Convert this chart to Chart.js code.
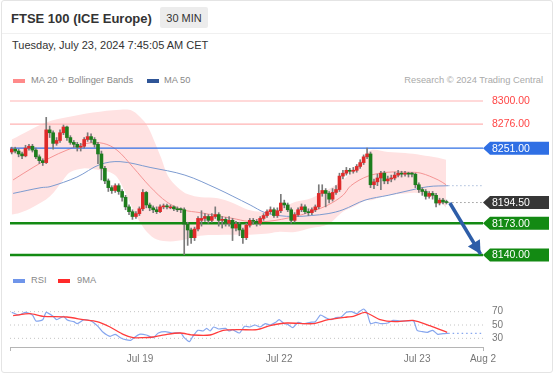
<!DOCTYPE html>
<html>
<head>
<meta charset="utf-8">
<script src="https://cdn.jsdelivr.net/npm/chart.js@4.4.1/dist/chart.umd.min.js"></script>
<style>
  body { margin:0; width:553px; height:375px; background:#fff; position:relative; overflow:hidden;
         font-family:"Liberation Sans", Arial, sans-serif; }
  #frame { position:absolute; left:1px; top:0; width:552px; height:373px; box-sizing:border-box;
           border:1px solid #e4e4e4; border-radius:3px; }
  #sep { position:absolute; left:2px; top:33px; width:549px; height:1px; background:#f0f0f0; }
  .t { position:absolute; white-space:nowrap; line-height:1; }
  #title { left:11px; top:11.7px; font-size:13px; font-weight:bold; color:#333; }
  #badge { position:absolute; left:160px; top:7px; width:48px; height:21px; background:#ececec; border-radius:2px;
           display:flex; align-items:center; justify-content:center; font-size:11px; color:#333; }
  #date { left:12px; top:40px; font-size:11px; color:#333; }
  .lg { font-size:9.3px; color:#888; }
  .sw { position:absolute; width:12px; height:4px; }
  canvas { position:absolute; left:0; }
</style>
</head>
<body>
<div id="frame"></div>
<div id="sep"></div>
<div id="title" class="t">FTSE 100 (ICE Europe)</div>
<div id="badge">30 MIN</div>
<div id="date" class="t">Tuesday, July 23, 2024 7:45:05 AM CET</div>

<div class="sw" style="left:13px;top:79px;background:#ff8a8a"></div>
<div class="t lg" style="left:31px;top:76.1px">MA 20 + Bollinger Bands</div>
<div class="sw" style="left:147px;top:79px;background:#2f5597"></div>
<div class="t lg" style="left:164px;top:76.1px">MA 50</div>
<div class="t lg" style="right:10px;top:76.1px;color:#aaa">Research © 2024 Trading Central</div>

<div class="sw" style="left:13px;top:279px;background:#6f95ea"></div>
<div class="t lg" style="left:31px;top:276.1px">RSI</div>
<div class="sw" style="left:58px;top:279px;background:#ff2a2a"></div>
<div class="t lg" style="left:77px;top:276.1px">9MA</div>

<canvas id="price" width="553" height="175" style="top:88px"></canvas>
<canvas id="rsi" width="553" height="87" style="top:288px"></canvas>

<script>
// 30 min candles, oldest first
const opens = [
  8247, 8250, 8248, 8245, 8243, 8251, 8253, 8249, 8242, 8238,
  8236, 8270, 8267, 8256, 8259, 8267, 8273, 8262, 8257, 8255,
  8252, 8253, 8260, 8263, 8260, 8255, 8245, 8230, 8217, 8210,
  8207, 8212, 8206, 8200, 8190, 8185, 8180, 8183, 8188, 8205,
  8192, 8189, 8187, 8185, 8190, 8191, 8189, 8190, 8188, 8188,
  8187, 8172, 8166, 8158, 8167, 8176, 8178, 8180, 8176, 8180,
  8182, 8176, 8177, 8173, 8176, 8168, 8172, 8166, 8158, 8171,
  8176, 8175, 8173, 8178, 8181, 8185, 8187, 8181, 8186, 8194,
  8192, 8187, 8176, 8182, 8187, 8190, 8185, 8184, 8187, 8190,
  8204, 8207, 8204, 8198, 8205, 8208, 8222, 8225, 8228, 8227,
  8228, 8232, 8236, 8242, 8245, 8213, 8216, 8220, 8225, 8217,
  8219, 8220, 8223, 8225, 8224, 8225, 8225, 8224, 8213, 8208,
  8206, 8201, 8204, 8202, 8194, 8197, 8195
];
const closes = [
  8250, 8248, 8245, 8243, 8251, 8253, 8249, 8242, 8238, 8236,
  8270, 8267, 8256, 8259, 8267, 8273, 8262, 8257, 8255, 8252,
  8253, 8260, 8263, 8260, 8255, 8245, 8230, 8217, 8210, 8207,
  8212, 8206, 8200, 8190, 8185, 8180, 8183, 8188, 8205, 8192,
  8189, 8187, 8185, 8190, 8191, 8190, 8190, 8188, 8187, 8187,
  8172, 8166, 8158, 8167, 8178, 8178, 8180, 8176, 8180, 8182,
  8176, 8177, 8173, 8176, 8168, 8172, 8166, 8158, 8171, 8176,
  8175, 8173, 8178, 8181, 8185, 8187, 8181, 8186, 8194, 8192,
  8187, 8176, 8182, 8187, 8190, 8185, 8184, 8187, 8190, 8204,
  8207, 8204, 8198, 8205, 8208, 8222, 8225, 8228, 8227, 8228,
  8232, 8236, 8242, 8245, 8213, 8216, 8220, 8225, 8217, 8219,
  8220, 8223, 8225, 8224, 8225, 8224, 8224, 8213, 8208, 8206,
  8201, 8204, 8202, 8194, 8197, 8195, 8194.5
];
const highs = [
  8252, 8252, 8250, 8247, 8254, 8255, 8255, 8251, 8244, 8240,
  8283, 8274, 8269, 8262, 8270, 8275, 8274, 8264, 8259, 8257,
  8256, 8262, 8267, 8266, 8262, 8257, 8248, 8232, 8219, 8212,
  8214, 8214, 8208, 8202, 8192, 8187, 8185, 8190, 8208, 8206,
  8194, 8191, 8190, 8192, 8193, 8193, 8192, 8191, 8190, 8189,
  8189, 8174, 8168, 8169, 8180, 8186, 8183, 8182, 8183, 8190,
  8184, 8180, 8179, 8180, 8178, 8175, 8174, 8168, 8173, 8178,
  8178, 8177, 8180, 8183, 8187, 8190, 8189, 8189, 8203, 8197,
  8194, 8189, 8184, 8189, 8193, 8192, 8188, 8189, 8192, 8213,
  8213, 8209, 8206, 8209, 8212, 8225, 8228, 8231, 8230, 8231,
  8234, 8239, 8244, 8251, 8247, 8219, 8224, 8227, 8227, 8222,
  8223, 8226, 8228, 8227, 8227, 8226, 8226, 8225, 8215, 8210,
  8208, 8206, 8206, 8204, 8199, 8199, 8197
];
const lows = [
  8245, 8246, 8242, 8240, 8242, 8249, 8247, 8240, 8235, 8233,
  8235, 8262, 8250, 8254, 8257, 8265, 8259, 8255, 8252, 8248,
  8248, 8251, 8258, 8257, 8252, 8235, 8218, 8214, 8206, 8204,
  8205, 8203, 8196, 8187, 8182, 8177, 8178, 8181, 8186, 8189,
  8186, 8184, 8183, 8184, 8188, 8188, 8188, 8186, 8185, 8184,
  8140, 8150, 8152, 8155, 8165, 8170, 8175, 8173, 8174, 8178,
  8170, 8168, 8170, 8170, 8155, 8165, 8160, 8152, 8156, 8169,
  8172, 8170, 8171, 8176, 8179, 8183, 8179, 8179, 8184, 8189,
  8185, 8173, 8174, 8180, 8185, 8183, 8181, 8182, 8185, 8188,
  8201, 8190, 8194, 8196, 8203, 8206, 8219, 8223, 8224, 8225,
  8226, 8230, 8234, 8240, 8210, 8209, 8212, 8208, 8214, 8214,
  8216, 8218, 8221, 8221, 8222, 8221, 8221, 8210, 8205, 8202,
  8198, 8199, 8198, 8190, 8192, 8193, 8193
];

// indicators: [candle index, value]
const ma20 = [[0.4,8218],[6.2,8231],[11.1,8241],[16,8249],[21.8,8256],[26.5,8256],[30.5,8249],[35.2,8231],
  [40.1,8211],[45,8195],[49.6,8187],[54.6,8184],[64.1,8178],[68.5,8175],[74.3,8175],[82.1,8180],[86.8,8185],
  [91.7,8192],[96,8202],[98.3,8212],[103.3,8222],[109.1,8226],[114.9,8226],[118.6,8225],[123.6,8218],[125.9,8213]];
const bbUpper = [[0,8260],[5.3,8270],[10.2,8278],[16,8283],[23.6,8288],[31.4,8291],[34.9,8290],[38.1,8280],
  [39.5,8273],[41.5,8257],[43.3,8241],[45.3,8222],[48.2,8210],[51.1,8203],[54.9,8200],[59.8,8199],[64.1,8194],
  [68.5,8187],[72.3,8185],[77.2,8187],[82.1,8195],[86.8,8199],[91.7,8208],[96,8218],[99.5,8230],[102.1,8241],
  [104.2,8249],[109.1,8247],[114,8246],[118.6,8244],[123.6,8241],[125.9,8239]];
const bbLower = [[0,8182],[2.4,8184],[6.2,8190],[11.1,8201],[14.9,8218],[16.9,8226],[20.7,8230],[25.6,8228],
  [28.5,8226],[30.5,8221],[32.8,8206],[35.2,8187],[37.2,8174],[39.2,8164],[42.1,8156],[45.9,8154],[50.2,8156],
  [54.6,8160],[64.1,8161],[69.1,8161],[73.4,8162],[77.2,8164],[82.1,8164],[86.8,8168],[91.7,8172],[96,8185],
  [99.5,8191],[102.7,8197],[104.2,8197],[109.1,8202],[114,8204],[118.6,8204],[123.6,8197],[125.9,8189]];
const ma50 = [[0.4,8204],[8.5,8210],[11.1,8211],[18.9,8221],[25.6,8234],[31.4,8237],[40.1,8231],[50.2,8223],
  [59.5,8209],[64.1,8201],[69.1,8192],[73.4,8184],[77.2,8181],[82.1,8180],[86.8,8181],[91.7,8183],[96,8187],
  [102.4,8197],[109.1,8202],[114,8206],[120.7,8211],[126.5,8212]];

const rsi = [[0,69],[2,65],[4,69],[6,65],[7,56],[9,58],[10,69],[12,63],[13,58],[15,63],[16,58],[17,56],[18,55],
  [19,52],[21,58],[23,56],[25,48],[26.5,39],[28.5,33],[30,36],[31.5,31],[33,28],[34.5,27],[35.5,31],[37,36],
  [39,35],[41,31],[42.5,38],[44.5,40],[46.5,38],[49,38],[50,31],[51.5,25],[52.5,33],[54,42],[55.5,41],[56.5,45],
  [57.5,41],[58.5,47],[60,44],[62,45],[63,41],[64,43],[66,38],[67.5,48],[69,47],[70.5,50],[72,47],[73.5,52],
  [75,50],[76.5,54],[77.5,58],[79,52],[80,51],[81.5,46],[83,54],[84.5,52],[86.5,54],[88,55],[89.5,65],[91,61],
  [92.5,58],[94,61],[95.5,62],[97,69],[98.5,70],[100,67],[101,71],[102,74],[103,68],[104,52],[105.5,54],[107,52],
  [109,53],[110.5,57],[112.5,56],[114.5,56],[116.5,56],[117.5,42],[119,40],[120.5,39],[122,42],[123.5,36],
  [125,37],[126.5,37.5]];
const rsiMa = [[0.4,64],[5.3,67],[9.1,63],[16,62],[20.7,58],[24.7,55],[28.5,47],[32.3,36],[35.2,31],[38,31],
  [40.9,32],[45,36],[48.8,38],[52.6,35],[57.5,35],[61.3,42],[66.2,43],[71.1,43],[74.9,49],[79.8,53],[87.3,52],
  [91.7,58],[97.2,62],[99,63],[102.4,69],[106.8,58],[111.1,55],[116.3,57],[121.2,49],[126.2,39]];

const levels = [8300, 8276, 8251, 8194.5, 8173, 8140];
const arrowPath = [[127.0, 8194], [135.9, 8141]];
const dateTicks = [-0.5, 37.2, 77.5, 117.5, 136.6];
const dateLabels = ['', 'Jul 19', 'Jul 22', 'Jul 23', 'Aug 2'];
const rsiTicks = [30, 50, 70];

const xMin = -0.5, xMax = 136.6;
const upColor = '#de2a2a', downColor = '#1d7d1d', wickColor = '#7a7a7a';
const greenLine = '#138a13';
const levelStyles = [
  {line: '#ffb3b3', width: 1.2, text: '#ff4545'},
  {line: '#ffb3b3', width: 1.2, text: '#ff4545'},
  {line: '#2f6fe4', width: 1.3, box: '#2f6fe4'},
  {line: '#9a9a9a', width: 1, dash: [1.5, 2.5], box: '#363636', from: closes.length - 0.5},
  {line: greenLine, width: 2.4, box: greenLine},
  {line: greenLine, width: 2.4, box: greenLine}
];

Chart.defaults.font.family = '"Liberation Sans", Arial, sans-serif';
const pts = arr => arr.map(p => ({x: p[0], y: p[1]}));
const last = arr => arr[arr.length - 1];

const levelLabels = {
  id: 'levelLabels',
  afterDatasetsDraw(chart) {
    const ctx = chart.ctx, ys = chart.scales.y, x0 = chart.chartArea.right;
    ctx.save();
    // arrow head
    const meta = chart.getDatasetMeta(chart.data.datasets.findIndex(d => d.label === 'arrow'));
    const a = meta.data[0], b = meta.data[1];
    ctx.translate(b.x, b.y);
    ctx.rotate(Math.atan2(b.y - a.y, b.x - a.x));
    ctx.fillStyle = '#2d5da8';
    ctx.beginPath();
    ctx.moveTo(0, 0); ctx.lineTo(-13, -7); ctx.lineTo(-13, 7); ctx.closePath(); ctx.fill();
    ctx.setTransform(1, 0, 0, 1, 0, 0);
    ctx.font = '10.5px "Liberation Sans", Arial, sans-serif';
    ctx.textBaseline = 'middle';
    levels.forEach((v, i) => {
      const st = levelStyles[i];
      const y = ys.getPixelForValue(v);
      if (st.box) {
        ctx.fillStyle = st.box;
        ctx.beginPath();
        ctx.moveTo(x0, y);
        ctx.lineTo(x0 + 7, y - 6.5);
        ctx.lineTo(x0 + 66, y - 6.5);
        ctx.lineTo(x0 + 66, y + 6.5);
        ctx.lineTo(x0 + 7, y + 6.5);
        ctx.closePath();
        ctx.fill();
        ctx.fillStyle = '#fff';
      } else {
        ctx.fillStyle = st.text;
      }
      ctx.fillText(v.toFixed(2), x0 + 9, y + 0.5);
    });
    ctx.restore();
  }
};

const levelSets = levels.map((v, i) => ({
  type: 'line', label: 'level' + i,
  data: [{x: levelStyles[i].from ?? xMin, y: v}, {x: xMax, y: v}],
  borderColor: levelStyles[i].line, borderWidth: levelStyles[i].width, borderDash: levelStyles[i].dash || [],
  pointRadius: 0, clip: false, order: 4
}));

new Chart(document.getElementById('price'), {
  type: 'bar',
  data: {
    datasets: [
      {type: 'line', label: 'bbUpper', data: pts(bbUpper), borderWidth: 0, pointRadius: 0, tension: 0.35,
       fill: '+1', backgroundColor: '#ffe2e2', order: 10},
      {type: 'line', label: 'bbLower', data: pts(bbLower), borderWidth: 0, pointRadius: 0, tension: 0.35,
       fill: false, order: 10},
      {type: 'line', label: 'ma20', data: pts(ma20), borderColor: '#f59595', borderWidth: 1, pointRadius: 0,
       tension: 0.35, order: 6},
      {type: 'line', label: 'ma50', data: pts(ma50), borderColor: '#7d9bd0', borderWidth: 1, pointRadius: 0,
       tension: 0.35, order: 6},
      {type: 'line', label: 'ma50ext', data: [{x: last(ma50)[0], y: last(ma50)[1]}, {x: xMax, y: last(ma50)[1]}],
       borderColor: '#a9bcda', borderWidth: 1, borderDash: [1.5, 2.5], pointRadius: 0, order: 6},
      ...levelSets,
      {label: 'wicks', data: highs.map((h, i) => ({x: i, y: [lows[i], h]})), backgroundColor: wickColor,
       barThickness: 1, grouped: false, order: 3},
      {label: 'bodies', data: closes.map((c, i) => ({x: i, y: [opens[i], c]})),
       backgroundColor: ctx => closes[ctx.dataIndex] >= opens[ctx.dataIndex] ? upColor : downColor,
       barThickness: 3, minBarLength: 1, grouped: false, order: 2},
      {type: 'line', label: 'arrow', data: pts(arrowPath), borderColor: '#2d5da8', borderWidth: 3.5,
       borderCapStyle: 'butt', pointRadius: 0, clip: false, order: 1}
    ]
  },
  options: {
    responsive: false, animation: false, devicePixelRatio: 1, events: [],
    layout: {padding: {left: 10, right: 70, top: 13, bottom: 8}},
    scales: {
      x: {type: 'linear', min: xMin, max: xMax, offset: false, display: false, grid: {offset: false}},
      y: {min: 8140, max: 8300, display: false, beginAtZero: false}
    },
    plugins: {legend: {display: false}, tooltip: {enabled: false}}
  },
  plugins: [levelLabels]
});

const endTick = c => (c.index === 0 || c.index === dateTicks.length - 1) ? '#b5b5b5' : 'rgba(0,0,0,0)';
new Chart(document.getElementById('rsi'), {
  type: 'line',
  data: {
    datasets: [
      ...rsiTicks.map(v => ({data: [{x: xMin, y: v}, {x: xMax, y: v}], borderColor: '#c4c4c4', borderWidth: 1,
        borderDash: [1, 3], pointRadius: 0, order: 5})),
      {label: 'RSI', data: pts(rsi), borderColor: '#86a6ee', borderWidth: 1.2, pointRadius: 0, tension: 0.2, order: 2},
      {label: 'RSIext', data: [{x: last(rsi)[0], y: last(rsi)[1]}, {x: xMax, y: last(rsi)[1]}],
       borderColor: '#86a6ee', borderWidth: 1.2, borderDash: [1.5, 3], pointRadius: 0, order: 2},
      {label: '9MA', data: pts(rsiMa), borderColor: '#ff3c3c', borderWidth: 1.3, pointRadius: 0, tension: 0.2, order: 1}
    ]
  },
  options: {
    responsive: false, animation: false, devicePixelRatio: 1, events: [],
    layout: {padding: {left: 10, right: 0, top: 2, bottom: 0}},
    scales: {
      x: {
        type: 'linear', min: xMin, max: xMax,
        afterFit: s => { s.height = 28; },
        afterBuildTicks: s => { s.ticks = dateTicks.map(v => ({value: v})); },
        ticks: {callback: (v, i) => dateLabels[i], autoSkip: false, maxRotation: 0, padding: 2,
                color: '#777', font: {size: 10}},
        grid: {drawOnChartArea: false, tickLength: 4, color: endTick, tickColor: endTick},
        border: {color: '#b5b5b5'}
      },
      y: {
        position: 'right', min: 17, max: 83,
        afterFit: s => { s.width = 70; },
        afterBuildTicks: s => { s.ticks = rsiTicks.map(v => ({value: v})); },
        ticks: {padding: 9, color: '#777', font: {size: 10}},
        grid: {display: false, drawTicks: false},
        border: {display: false}
      }
    },
    plugins: {legend: {display: false}, tooltip: {enabled: false}}
  }
});
</script>
</body>
</html>
